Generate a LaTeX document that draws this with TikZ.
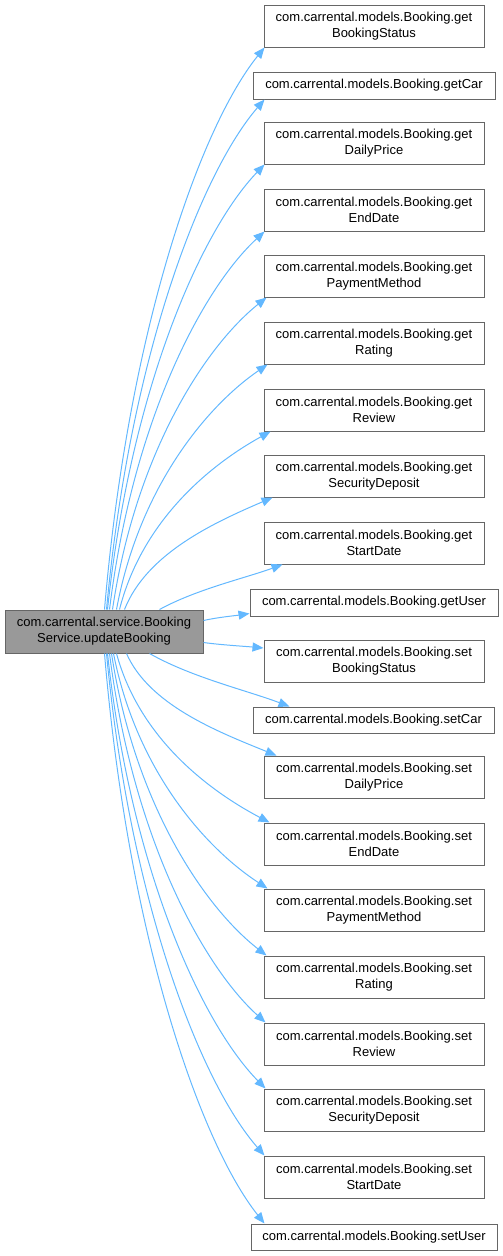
\documentclass[tikz,border=0pt]{standalone}
\usepackage{fontspec}
\setmainfont{Liberation Sans}
\usetikzlibrary{arrows.meta,calc}
\definecolor{edgeblue}{HTML}{63B8FF}
\definecolor{boxborder}{HTML}{666666}
\definecolor{srcfill}{HTML}{999999}
\newcommand\cgedge[2]{\draw[cgarrow] let \p1=#1, \p2=#2 in (\p1) .. controls ({\x1+0.15*(\x2-\x1)},{\y1+0.5*(\y2-\y1)}) and ({\x2-0.4*(\x2-\x1)},{\y2-0.12*(\y2-\y1)-sign(\y2-\y1)*12pt}) .. (\p2);}
\newcommand\cgnear[2]{\draw[cgarrow] let \p1=#1, \p2=#2 in (\p1) .. controls ({\x1+0.3*(\x2-\x1)},{\y1+0.45*(\y2-\y1)}) and ({\x2-0.3*(\x2-\x1)},{\y2-0.3*(\y2-\y1)}) .. (\p2);}
\begin{document}
\begin{tikzpicture}[x=1pt,y=-1pt,
  fnbox/.style={draw=boxborder,fill=white,line width=1pt,rectangle,inner sep=0pt,align=center,
    font=\fontsize{13}{16}\selectfont,text=black},
  twoline/.style={fnbox,minimum width=220pt,minimum height=42pt},
  srcbox/.style={fnbox,fill=srcfill,minimum width=198pt,minimum height=43pt},
  cgarrow/.style={draw=edgeblue,line width=1pt,-{Triangle[length=11pt,width=9pt]},fill=none}]
\useasboundingbox (0,0) rectangle (503,1256);
\node[srcbox] (src) at (104,631.5) {com.carrental.service.Booking\\Service.updateBooking};
\node[twoline] (gbs) at (374,26) {com.carrental.models.Booking.get\\BookingStatus};
\node[fnbox,minimum width=242pt,minimum height=27pt] (gc) at (374,85.5) {com.carrental.models.Booking.getCar};
\node[twoline] (gdp) at (374,143) {com.carrental.models.Booking.get\\DailyPrice};
\node[twoline] (ged) at (374,210) {com.carrental.models.Booking.get\\EndDate};
\node[twoline] (gpm) at (374,276) {com.carrental.models.Booking.get\\PaymentMethod};
\node[twoline] (gr) at (374,343) {com.carrental.models.Booking.get\\Rating};
\node[twoline] (grv) at (374,410) {com.carrental.models.Booking.get\\Review};
\node[twoline] (gsdep) at (374,476) {com.carrental.models.Booking.get\\SecurityDeposit};
\node[twoline] (gsdt) at (374,543) {com.carrental.models.Booking.get\\StartDate};
\node[fnbox,minimum width=248pt,minimum height=27pt] (gu) at (374,602.5) {com.carrental.models.Booking.getUser};
\node[twoline] (sbs) at (374,661) {com.carrental.models.Booking.set\\BookingStatus};
\node[fnbox,minimum width=241pt,minimum height=26pt] (sc) at (373.5,720) {com.carrental.models.Booking.setCar};
\node[twoline] (sdp) at (374,777) {com.carrental.models.Booking.set\\DailyPrice};
\node[twoline] (sed) at (374,844) {com.carrental.models.Booking.set\\EndDate};
\node[twoline] (spm) at (374,910) {com.carrental.models.Booking.set\\PaymentMethod};
\node[twoline] (sr) at (374,977) {com.carrental.models.Booking.set\\Rating};
\node[twoline] (srv) at (374,1044) {com.carrental.models.Booking.set\\Review};
\node[twoline] (ssdep) at (374,1110) {com.carrental.models.Booking.set\\SecurityDeposit};
\node[twoline] (ssdt) at (374,1177) {com.carrental.models.Booking.set\\StartDate};
\node[fnbox,minimum width=246pt,minimum height=26pt] (su) at (374,1237) {com.carrental.models.Booking.setUser};
% upper edges
\cgedge{([xshift=100pt]src.north west)}{([xshift=1pt]gbs.south west)}
\cgedge{([xshift=102pt]src.north west)}{([xshift=12pt]gc.south west)}
\cgedge{([xshift=103pt]src.north west)}{([xshift=1pt]gdp.south west)}
\cgedge{([xshift=105pt]src.north west)}{([xshift=1pt]ged.south west)}
\cgedge{([xshift=108pt]src.north west)}{([xshift=3pt]gpm.south west)}
\cgedge{([xshift=112pt]src.north west)}{([xshift=4pt]gr.south west)}
\cgedge{([xshift=115pt]src.north west)}{([xshift=7pt]grv.south west)}
\cgedge{([xshift=120pt]src.north west)}{([xshift=9pt]gsdep.south west)}
\cgnear{([xshift=155pt]src.north west)}{([xshift=19pt]gsdt.south west)}
\cgnear{([yshift=11pt]src.east)}{([yshift=-11pt]gu.west)}
% lower edges
\cgnear{([yshift=-11pt]src.east)}{([yshift=13pt]sbs.west)}
\cgnear{([xshift=145pt]src.south west)}{([xshift=37pt]sc.north west)}
\cgedge{([xshift=122pt]src.south west)}{([xshift=13pt]sdp.north west)}
\cgedge{([xshift=112pt]src.south west)}{([xshift=6pt]sed.north west)}
\cgedge{([xshift=109pt]src.south west)}{([xshift=4pt]spm.north west)}
\cgedge{([xshift=107pt]src.south west)}{([xshift=3pt]sr.north west)}
\cgedge{([xshift=105pt]src.south west)}{([xshift=2pt]srv.north west)}
\cgedge{([xshift=103pt]src.south west)}{([xshift=2pt]ssdep.north west)}
\cgedge{([xshift=102pt]src.south west)}{([xshift=1pt]ssdt.north west)}
\cgedge{([xshift=100pt]src.south west)}{([xshift=14pt]su.north west)}
\end{tikzpicture}
\end{document}
